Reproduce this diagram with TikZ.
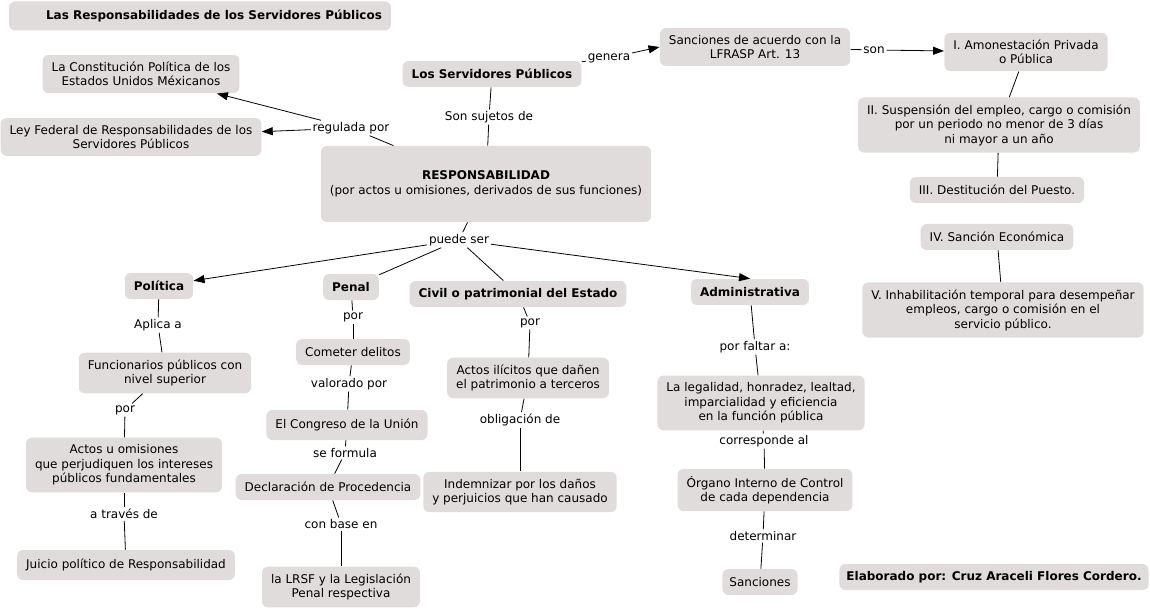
\documentclass[tikz,border=0pt]{standalone}
\usepackage{fontspec}
\setmainfont{DejaVu Sans}
\usepackage{tikz}
\usetikzlibrary{arrows.meta}
\definecolor{boxgray}{RGB}{224,220,220}
\newcommand{\boxcol}{boxgray}
\newcommand{\mapfont}{\fontsize{12}{14.5}\selectfont}
\tikzset{
  concept/.style={fill=\boxcol, rounded corners=6pt, align=center, inner xsep=9pt, inner ysep=7pt, minimum height=26pt, font=\mapfont},
  bconcept/.style={concept, font=\mapfont\bfseries},
  linkword/.style={fill=white, inner sep=1.5pt, font=\mapfont},
  arrowline/.style={-{Triangle[length=11pt,width=8pt]}}
}

\begin{document}
\begin{tikzpicture}[x=1pt, y=1pt, line width=0.8pt]
    \useasboundingbox (0,0) rectangle (1150,-612);

    % concepts
    \node[bconcept, minimum width=380pt, minimum height=29pt] (title) at (200,-16) {\hspace*{28pt}Las Responsabilidades de los Servidores Públicos};
    \node[concept] (constit) at (141,-74) {La Constitución Política de los\\Estados Unidos Méxicanos};
    \node[concept] (leyfed) at (131,-137) {Ley Federal de Responsabilidades de los\\Servidores Públicos};
    \node[bconcept] (servid) at (492,-74) {Los Servidores Públicos};
    \node[concept] (sanclf) at (755,-47) {Sanciones de acuerdo con la\\LFRASP Art. 13};
    \node[concept] (amon) at (1026,-52) {I. Amonestación Privada\\o Pública};
    \node[concept] (susp) at (999,-125) {II. Suspensión del empleo, cargo o comisión\\por un periodo no menor de 3 días\\ni mayor a un año};
    \node[concept] (destit) at (997,-190) {III. Destitución del Puesto.};
    \node[concept] (econ) at (997,-237) {IV. Sanción Económica};
    \node[concept] (inhab) at (1003,-310) {V. Inhabilitación temporal para desempeñar\\empleos, cargo o comisión en el\\servicio público.};
    \node[concept, minimum width=330pt, minimum height=76pt] (resp) at (486,-184) {\textbf{RESPONSABILIDAD}\\(por actos u omisiones, derivados de sus funciones)};

    \node[bconcept] (polit) at (159,-286) {Política};
    \node[concept] (funcion) at (165,-373) {Funcionarios públicos con\\nivel superior};
    \node[concept] (actosom) at (124,-465) {Actos u omisiones\\que perjudiquen los intereses\\públicos fundamentales};
    \node[concept, minimum height=30pt] (juicio) at (126,-565) {Juicio político de Responsabilidad};

    \node[bconcept] (penal) at (351,-287) {Penal};
    \node[concept] (delitos) at (353,-352) {Cometer delitos};
    \node[concept, minimum height=30pt] (congreso) at (347,-425) {El Congreso de la Unión};
    \node[concept] (declar) at (328,-487) {Declaración de Procedencia};
    \node[concept] (lrsf) at (341,-587) {la LRSF y la Legislación\\Penal respectiva};

    \node[bconcept] (civil) at (518,-294) {Civil o patrimonial del Estado};
    \node[concept] (ilicitos) at (528,-378) {Actos ilícitos que dañen\\el patrimonio a terceros};
    \node[concept] (indemn) at (520,-492) {Indemnizar por los daños\\y perjuicios que han causado};

    \node[bconcept] (admin) at (750,-292) {Administrativa};
    \node[concept] (legal) at (761,-403) {La legalidad, honradez, lealtad,\\imparcialidad y eficiencia\\en la función pública};
    \node[concept] (organo) at (765,-490) {Órgano Interno de Control\\de cada dependencia};
    \node[concept, inner xsep=7pt] (sanc) at (760,-582) {Sanciones};

    \node[bconcept, inner xsep=7pt] (autor) at (994,-577) {Elaborado por: Cruz Araceli Flores Cordero.};

    % linking words
    \node[linkword] (lgenera) at (609,-58) {genera};
    \node[linkword] (lson) at (874,-50) {son};
    \node[linkword] (lregula) at (351,-128) {regulada por};
    \node[linkword] (lsujetos) at (489,-117) {Son sujetos de};
    \node[linkword] (lpuede) at (459,-240) {puede ser};
    \node[linkword] (laplica) at (158,-325) {Aplica a};
    \node[linkword] (lpor1) at (125,-410) {por};
    \node[linkword] (ltraves) at (124,-514) {a través de};
    \node[linkword] (lpor2) at (353,-317) {por};
    \node[linkword] (lvalor) at (349,-384) {valorado por};
    \node[linkword] (lformula) at (345,-453) {se formula};
    \node[linkword] (lbase) at (341,-524) {con base en};
    \node[linkword] (lpor3) at (530,-323) {por};
    \node[linkword] (loblig) at (520,-420) {obligación de};
    \node[linkword] (lfaltar) at (755,-347) {por faltar a:};
    \node[linkword] (lcorresp) at (764,-441) {corresponde al};
    \node[linkword] (ldeterm) at (763,-536) {determinar};

    % connectors
    \draw (servid) -- (lgenera);
    \draw[arrowline] (lgenera) -- (sanclf.west);
    \draw (sanclf) -- (lson);
    \draw[arrowline] (lson) -- (amon);
    \draw (amon) -- (susp);
    \draw (susp) -- (destit);
    \draw (econ) -- (inhab);

    \draw (resp) -- (lregula);
    \draw[arrowline] (lregula) -- (constit);
    \draw[arrowline] (lregula) -- (leyfed);
    \draw (servid) -- (lsujetos);
    \draw (lsujetos) -- (resp);

    \draw (resp) -- (lpuede);
    \draw[arrowline] (lpuede) -- (polit);
    \draw (lpuede) -- (penal);
    \draw (lpuede) -- (civil);
    \draw[arrowline] (lpuede) -- (admin.north);

    \draw (polit) -- (laplica);
    \draw (laplica) -- (funcion);
    \draw (funcion) -- (lpor1);
    \draw (lpor1) -- (actosom);
    \draw (actosom) -- (ltraves);
    \draw (ltraves) -- (juicio);

    \draw (penal) -- (lpor2);
    \draw (lpor2) -- (delitos);
    \draw (delitos) -- (lvalor);
    \draw (lvalor) -- (congreso);
    \draw (congreso) -- (lformula);
    \draw (lformula) -- (declar);
    \draw (declar) -- (lbase);
    \draw (lbase) -- (lrsf);

    \draw (civil) -- (lpor3);
    \draw (lpor3) -- (ilicitos);
    \draw (ilicitos) -- (loblig);
    \draw (loblig) -- (indemn);

    \draw (admin) -- (lfaltar);
    \draw (lfaltar) -- (legal);
    \draw (legal) -- (lcorresp);
    \draw (lcorresp) -- (organo);
    \draw (organo) -- (ldeterm);
    \draw (ldeterm) -- (sanc);
\end{tikzpicture}
\end{document}
